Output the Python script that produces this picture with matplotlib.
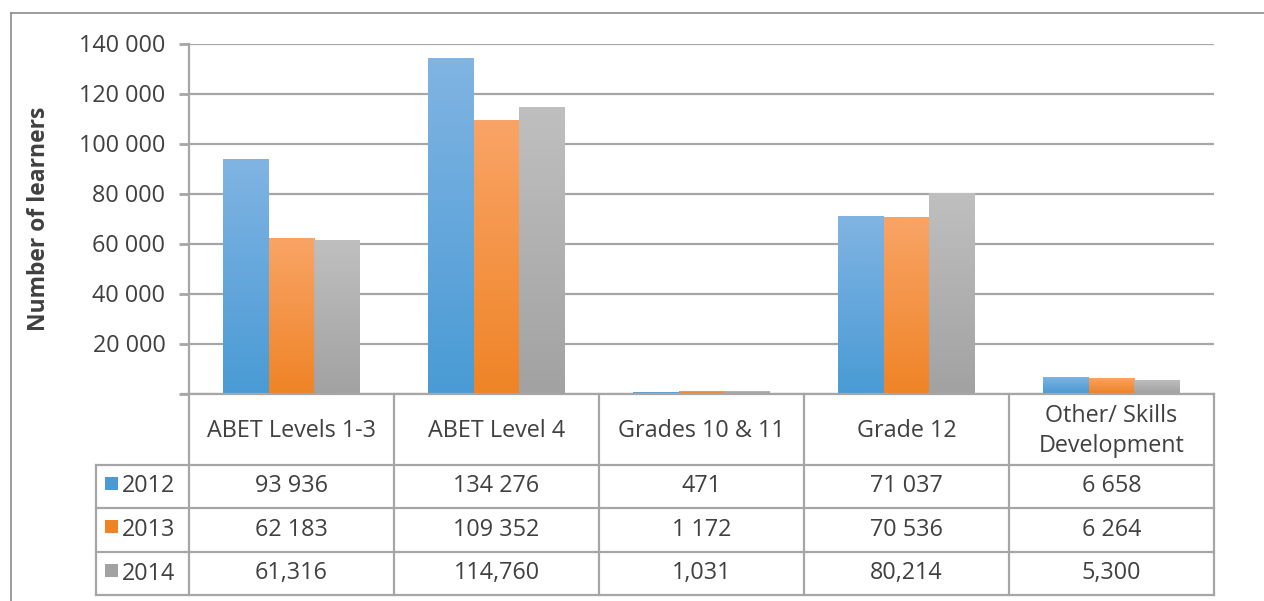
import matplotlib
matplotlib.use("Agg")
import matplotlib.pyplot as plt
import numpy as np
from matplotlib.colors import LinearSegmentedColormap
from matplotlib.transforms import blended_transform_factory
from matplotlib.lines import Line2D

# ---------------- data ----------------
categories = ["ABET Levels 1-3", "ABET Level 4", "Grades 10 & 11", "Grade 12",
              "Other/ Skills\nDevelopment"]
series_names = ["2012", "2013", "2014"]
values_2012 = [93936, 134276, 471, 71037, 6658]
values_2013 = [62183, 109352, 1172, 70536, 6264]
values_2014 = [61316, 114760, 1031, 80214, 5300]
table_separators = [" ", " ", ","]   # thousands separator used in each table row
y_ticks = [0, 20000, 40000, 60000, 80000, 100000, 120000, 140000]
y_label = "Number of learners"

series_values = [values_2012, values_2013, values_2014]
# (top colour, bottom colour) for the gradient of each series
series_colors = [("#80b4e3", "#4a9bd5"), ("#f9a466", "#ef8427"), ("#bfbfbf", "#a2a2a2")]

TEXT = "#404040"
GRID = "#a6a6a6"
FONT = "Open Sans"
FS = 16.8

W, H = 1264, 601
fig = plt.figure(figsize=(W / 100, H / 100), dpi=100)
plt.rcParams['font.family'] = [FONT, 'DejaVu Sans']

# axes in pixel geometry
ax_l, ax_r, ax_t, ax_b = 189, 1214, 43.5, 393.5
ax = fig.add_axes([ax_l / W, 1 - ax_b / H, (ax_r - ax_l) / W, (ax_b - ax_t) / H])

n = len(categories)
x = np.arange(n)
bw = 0.224
offsets = [-bw, 0, bw]

def fmt(v, sep):
    s = f"{v:,}"
    return s.replace(",", sep)

for vals, off, (ctop, cbot) in zip(series_values, offsets, series_colors):
    bars = ax.bar(x + off, vals, width=bw, color="none", edgecolor="none", zorder=3)
    cmap = LinearSegmentedColormap.from_list("g", [cbot, ctop])
    grad = np.linspace(0, 1, 64).reshape(-1, 1)
    for b in bars:
        x0, w_, h_ = b.get_x(), b.get_width(), b.get_height()
        im = ax.imshow(grad, extent=[x0, x0 + w_, 0, h_], origin="lower",
                       aspect="auto", cmap=cmap, zorder=3, interpolation="bilinear")
        im.set_clip_path(b)

ax.set_xlim(-0.5, n - 0.5)
ax.set_ylim(0, 140000)
ax.set_yticks(y_ticks)
ax.set_yticklabels(["" if t == 0 else fmt(t, " ") for t in y_ticks],
                   fontsize=FS, color=TEXT)
ax.tick_params(axis="y", length=7, width=2, color=GRID, pad=10)
ax.tick_params(axis="x", length=0, labelbottom=False)
ax.grid(axis="y", color=GRID, linewidth=1.6, zorder=1)
ax.set_axisbelow(True)
for s in ["top", "right", "bottom"]:
    ax.spines[s].set_visible(False)
ax.spines["left"].set_color(GRID)
ax.spines["left"].set_linewidth(1.6)

ax.set_ylabel(y_label, fontsize=16.5, fontweight="bold", color=TEXT)
ax.yaxis.set_label_coords((51 - ax_l) / (ax_r - ax_l), (ax_b - 219) / (ax_b - ax_t))

# ---------------- data table ----------------
tr = blended_transform_factory(ax.transData, ax.transAxes)
def py(p):  # pixel y -> axes fraction
    return (ax_b - p) / (ax_b - ax_t)
def px(p):  # pixel x -> data x
    return -0.5 + (p - ax_l) / ((ax_r - ax_l) / n)

rows_px = [393.5, 465, 508, 552, 595]
rows = [py(r) for r in rows_px]
left_x = px(96)

def line(xs, ys):
    ax.add_line(Line2D(xs, ys, transform=tr, color=GRID, linewidth=1.6,
                       clip_on=False, zorder=5, solid_capstyle="projecting"))

# horizontal lines
line([px(182), n - 0.5], [rows[0], rows[0]])
for r in rows[1:]:
    line([left_x, n - 0.5], [r, r])
# vertical lines
for i in range(n + 1):
    line([i - 0.5, i - 0.5], [rows[0], rows[-1]])
line([left_x, left_x], [rows[1], rows[-1]])

# header texts
for i, c in enumerate(categories):
    ax.text(i, py(431), c, transform=tr, ha="center", va="center",
            fontsize=FS, color=TEXT, linespacing=1.35, clip_on=False)

# rows
for k, (name, vals, sep, (ctop, cbot)) in enumerate(zip(series_names, series_values,
                                                        table_separators, series_colors)):
    yc = (rows[k + 1] + rows[k + 2]) / 2
    # legend key
    sq0, sq1 = px(105), px(118)
    ytop = py(rows_px[k + 1] + 12)
    ybot = py(rows_px[k + 1] + 25)
    ax.add_patch(plt.Rectangle((sq0, ybot), sq1 - sq0, ytop - ybot, transform=tr,
                               facecolor=cbot, edgecolor="none", clip_on=False, zorder=5))
    ax.text(px(122), yc, name, transform=tr, ha="left", va="center",
            fontsize=FS, color=TEXT, clip_on=False)
    for i, v in enumerate(vals):
        ax.text(i, yc, fmt(v, sep), transform=tr, ha="center", va="center",
                fontsize=FS, color=TEXT, clip_on=False)

# outer frame (top and left only)
fig.add_artist(Line2D([11 / W, 1], [1 - 13 / H, 1 - 13 / H], transform=fig.transFigure,
                      color="#8c8c8c", linewidth=1.2))
fig.add_artist(Line2D([11 / W, 11 / W], [1 - 13 / H, 0], transform=fig.transFigure,
                      color="#8c8c8c", linewidth=1.2))

fig.savefig("out.png", dpi=100)
